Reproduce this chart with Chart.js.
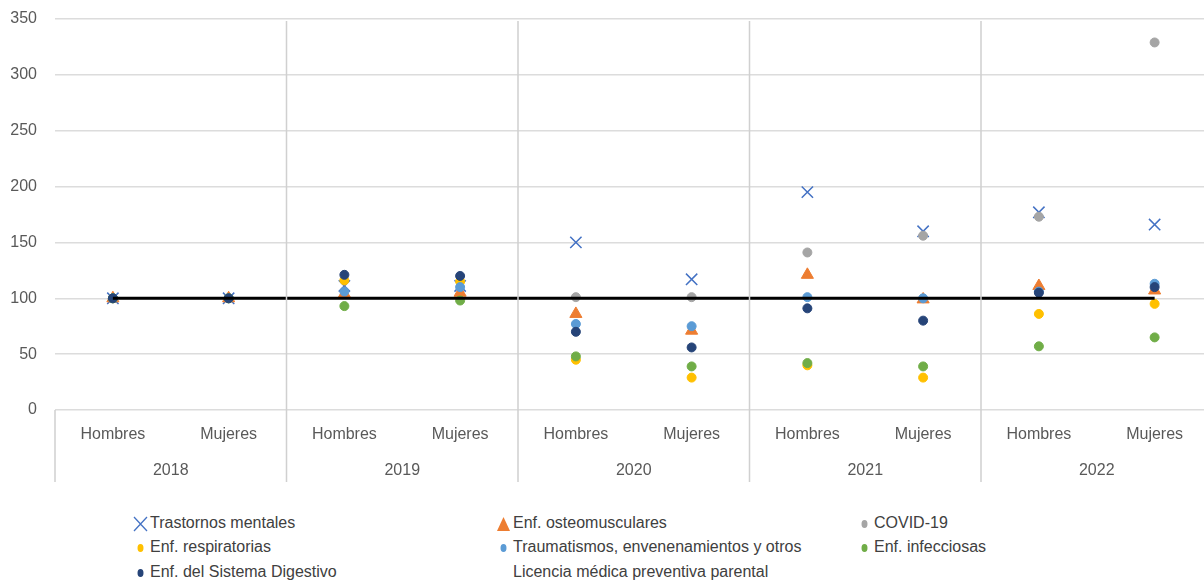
<!DOCTYPE html>
<html>
<head>
<meta charset="utf-8">
<script src="https://cdn.jsdelivr.net/npm/chart.js@4"></script>
<style>
  body { margin: 0; background: #fff; overflow: hidden; width: 1204px; height: 582px; }
  #wrap { position: absolute; left: 0; top: 0; width: 1222px; height: 490px; }
  #leyenda { position: absolute; left: 0; top: 0; font-family: "Liberation Sans", Arial, sans-serif; font-size: 16px; color: #404040; }
  .item { position: absolute; white-space: nowrap; line-height: 18px; }
  .item canvas { vertical-align: middle; margin-right: 2px; }
</style>
</head>
<body>
<div id="wrap"><canvas id="grafica" width="1222" height="490"></canvas></div>
<div id="leyenda"></div>
<script>
const categorias = ["Hombres", "Mujeres", "Hombres", "Mujeres", "Hombres", "Mujeres", "Hombres", "Mujeres", "Hombres", "Mujeres"];
const anios = ["2018", "2019", "2020", "2021", "2022"];

const trastornos = [100, 100, 111, 111, 150, 117, 195, 160, 177, 166];
const osteo = [100, 100, 104, 105, 86, 71, 121, 99, 111, 107];
const covid = [null, null, null, null, 101, 101, 141, 156, 173, 329];
const respiratorias = [100, 100, 116, 115, 45, 29, 40, 29, 86, 95];
const traumatismos = [100, 100, 106, 110, 77, 75, 101, 100, 106, 113];
const infecciosas = [100, 100, 93, 98, 48, 39, 42, 39, 57, 65];
const digestivo = [100, 100, 121, 120, 70, 56, 91, 80, 105, 110];
const licencia = [null, null, null, null, null, null, null, null, null, null];
const base = [100, 100, 100, 100, 100, 100, 100, 100, 100, 100];

const series = [
  { label: "Trastornos mentales", data: trastornos, color: "#4472C4", style: "crossRot", r: 8, bw: 1.5 },
  { label: "Enf. osteomusculares", data: osteo, color: "#ED7D31", style: "triangle", r: 7, bw: 1 },
  { label: "COVID-19", data: covid, color: "#A5A5A5", style: "circle", r: 4.5, bw: 1 },
  { label: "Enf. respiratorias", data: respiratorias, color: "#FFC000", style: "circle", r: 4.5, bw: 1 },
  { label: "Traumatismos, envenenamientos y otros", data: traumatismos, color: "#5B9BD5", style: "circle", r: 4.5, bw: 1 },
  { label: "Enf. infecciosas", data: infecciosas, color: "#70AD47", style: "circle", r: 4.5, bw: 1 },
  { label: "Enf. del Sistema Digestivo", data: digestivo, color: "#264478", style: "circle", r: 4.5, bw: 1 },
  { label: "Licencia médica preventiva parental", data: licencia, color: null, style: false, r: 0, bw: 0 }
];

const datasets = series.map((s, i) => ({
  label: s.label,
  data: s.data,
  showLine: false,
  pointStyle: s.style,
  pointRadius: s.r,
  pointBorderWidth: s.bw,
  pointBackgroundColor: s.color || "transparent",
  pointBorderColor: s.color || "transparent",
  order: 10 - i
}));

datasets.push({
  label: "base",
  data: base,
  borderColor: "#000",
  borderWidth: 3,
  pointRadius: 0,
  order: 0
});

// lineas de la tabla bajo el eje x
const lineasTabla = {
  id: "lineasTabla",
  afterDraw(chart) {
    const ctx = chart.ctx;
    const x = chart.scales.x;
    const area = chart.chartArea;
    const fondo = 482;
    ctx.save();
    ctx.strokeStyle = "#d0d0d0";
    ctx.lineWidth = 1.5;
    ctx.beginPath();
    ctx.moveTo(x.left, area.bottom);
    ctx.lineTo(x.left, fondo);
    for (let i = 1; i < categorias.length - 1; i += 2) {
      const px = (x.getPixelForValue(i) + x.getPixelForValue(i + 1)) / 2;
      ctx.moveTo(px, area.top + 2);
      ctx.lineTo(px, fondo);
    }
    ctx.stroke();
    ctx.restore();
  }
};

const fuente = { family: "'Liberation Sans', Arial, sans-serif", size: 16 };

new Chart(document.getElementById("grafica").getContext("2d"), {
  type: "line",
  data: { labels: categorias, datasets: datasets },
  options: {
    responsive: false,
    animation: false,
    layout: { padding: { top: 19, right: 0, bottom: 0, left: 0 } },
    plugins: { legend: { display: false }, tooltip: { enabled: false } },
    scales: {
      x: {
        offset: true,
        grid: { display: false, drawTicks: false },
        border: { display: false },
        ticks: { color: "#595959", font: fuente, padding: 15, maxRotation: 0 },
        afterFit: s => { s.height = 34; }
      },
      x2: {
        type: "category",
        labels: anios,
        position: "bottom",
        offset: true,
        grid: { display: false, drawTicks: false },
        border: { display: false },
        ticks: { color: "#595959", font: fuente, padding: 17 },
        afterFit: s => { s.height = 46; }
      },
      y: {
        min: 0,
        max: 350,
        ticks: { stepSize: 50, color: "#595959", font: fuente, padding: 18 },
        grid: { color: "#dcdcdc", lineWidth: 1.5, drawTicks: false },
        border: { display: false },
        afterFit: s => { s.width = 55; s.paddingTop = 0; s.paddingBottom = 0; }
      }
    }
  },
  plugins: [lineasTabla]
});

// leyenda en tres columnas
const columnas = [133, 496, 857];
const filas = [514, 538, 563];
const leyenda = document.getElementById("leyenda");
series.forEach((s, i) => {
  const div = document.createElement("div");
  div.className = "item";
  div.style.left = columnas[i % 3] + "px";
  div.style.top = filas[Math.floor(i / 3)] + "px";
  const m = document.createElement("canvas");
  m.width = 15; m.height = 16;
  const c = m.getContext("2d");
  if (s.style) {
    c.fillStyle = s.color; c.strokeStyle = s.color; c.lineWidth = 1.3;
    if (s.style === "crossRot") {
      c.beginPath(); c.moveTo(1, 1); c.lineTo(14, 15); c.moveTo(14, 1); c.lineTo(1, 15); c.stroke();
    } else if (s.style === "triangle") {
      c.beginPath(); c.moveTo(7.5, 1); c.lineTo(14, 15); c.lineTo(1, 15); c.closePath(); c.fill();
    } else {
      c.beginPath(); c.ellipse(7.5, 8, 3, 4, 0, 0, Math.PI * 2); c.fill();
    }
  }
  div.appendChild(m);
  div.appendChild(document.createTextNode(s.label));
  leyenda.appendChild(div);
});
</script>
</body>
</html>
